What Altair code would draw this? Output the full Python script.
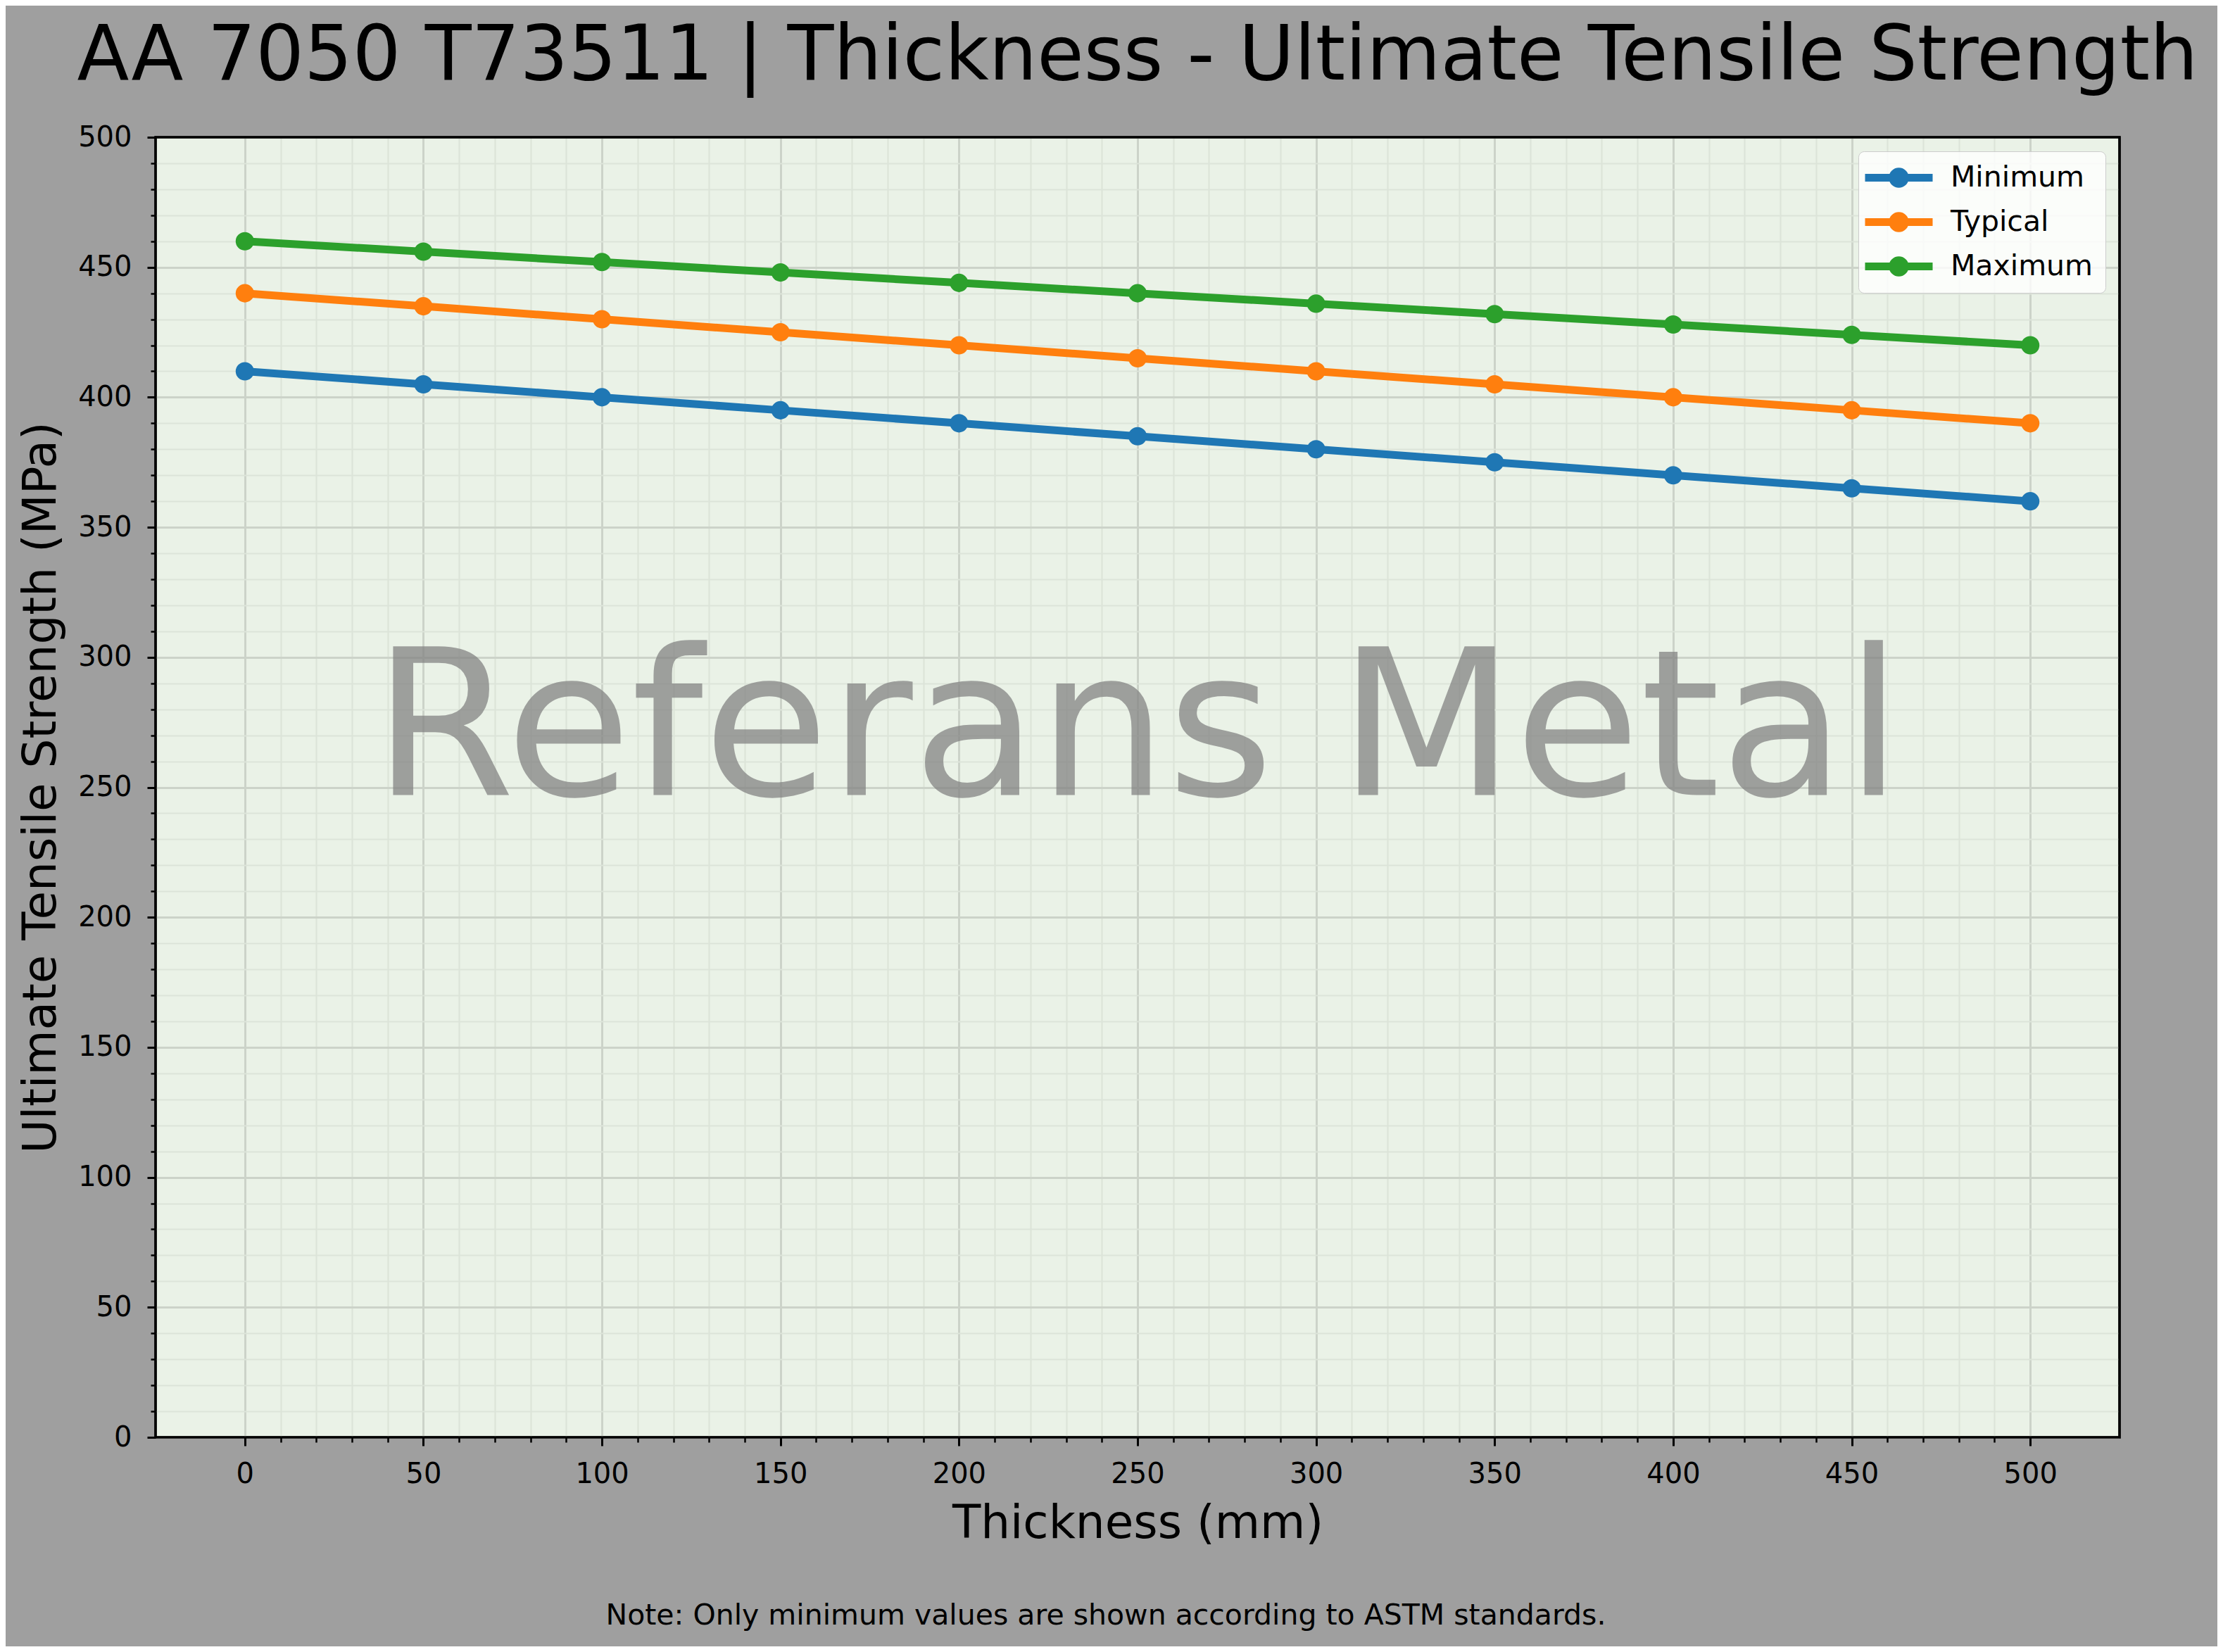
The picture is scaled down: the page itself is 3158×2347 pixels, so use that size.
import altair as alt
import pandas as pd

TITLE = "AA 7050 T73511 | Thickness - Ultimate Tensile Strength"
X_TITLE = "Thickness (mm)"
Y_TITLE = "Ultimate Tensile Strength (MPa)"
NOTE = "Note: Only minimum values are shown according to ASTM standards."
WATERMARK = "Referans Metal"

THICKNESS = [0, 50, 100, 150, 200, 250, 300, 350, 400, 450, 500]
SERIES = ["Minimum", "Typical", "Maximum"]
MINIMUM = [410, 405, 400, 395, 390, 385, 380, 375, 370, 365, 360]
TYPICAL = [440, 435, 430, 425, 420, 415, 410, 405, 400, 395, 390]
MAXIMUM = [460, 456, 452, 448, 444, 440, 436, 432, 428, 424, 420]
COLORS = ["#1f77b4", "#ff7f0e", "#2ca02c"]

MAJOR_TICKS = [0, 50, 100, 150, 200, 250, 300, 350, 400, 450, 500]
MINOR_TICKS = [v for v in range(0, 501, 10) if v % 50 != 0]

rows = []
for name, vals in zip(SERIES, [MINIMUM, TYPICAL, MAXIMUM]):
    for t, v in zip(THICKNESS, vals):
        rows.append({"thickness": t, "strength": v, "series": name})
df = pd.DataFrame(rows)

FONT = "DejaVu Sans"
W, H = 2790, 1847

xscale = alt.Scale(domain=[-25, 525], nice=False, zero=False)
yscale = alt.Scale(domain=[0, 500], nice=False)

minor_x = alt.Axis(orient="bottom", values=MINOR_TICKS, labels=False, domain=False,
                   grid=True, gridColor="#dce4d9", gridWidth=2.2,
                   ticks=True, tickSize=7, tickWidth=2.5, tickColor="black", title=None)
minor_y = alt.Axis(orient="left", values=MINOR_TICKS, labels=False, domain=False,
                   grid=True, gridColor="#dce4d9", gridWidth=2.2,
                   ticks=True, tickSize=7, tickWidth=2.5, tickColor="black", title=None)
major_x = alt.Axis(orient="bottom", values=MAJOR_TICKS, domain=False,
                   grid=True, gridColor="#ccd3c9", gridWidth=3,
                   ticks=True, tickSize=12, tickWidth=3, tickColor="black",
                   labelFont=FONT, labelFontSize=40, labelColor="black", labelPadding=20,
                   title=X_TITLE, titleFont=FONT, titleFontSize=66, titleFontWeight="normal",
                   titleColor="black", titlePadding=18)
major_y = alt.Axis(orient="left", values=MAJOR_TICKS, domain=False,
                   grid=True, gridColor="#ccd3c9", gridWidth=3,
                   ticks=True, tickSize=12, tickWidth=3, tickColor="black",
                   labelFont=FONT, labelFontSize=40, labelColor="black", labelPadding=22,
                   title=Y_TITLE, titleFont=FONT, titleFontSize=66, titleFontWeight="normal",
                   titleColor="black", titlePadding=18)

SYMBOL = ("M-3.2,-0.37L3.2,-0.37L3.2,0.37L-3.2,0.37Z"
          "M-0.95,0A0.95,0.95 0 1,1 0.95,0A0.95,0.95 0 1,1 -0.95,0Z")

legend = alt.Legend(title=None, orient="top-right", offset=20,
                    fillColor="rgba(255,255,255,0.8)", strokeColor="#cccccc",
                    cornerRadius=8, padding=17,
                    labelFont=FONT, labelFontSize=41, labelColor="black", labelLimit=500,
                    symbolType=SYMBOL, symbolSize=900, symbolOffset=20,
                    symbolStrokeWidth=0, labelOffset=53, rowPadding=21)

color = alt.Color("series:N", scale=alt.Scale(domain=SERIES, range=COLORS),
                  sort=SERIES, legend=legend)

minor = alt.Chart(df).mark_point(opacity=0).encode(
    x=alt.X("thickness:Q", scale=xscale, axis=minor_x),
    y=alt.Y("strength:Q", scale=yscale, axis=minor_y),
)

wm = alt.Chart(pd.DataFrame({"t": [WATERMARK]})).mark_text(
    font=FONT, fontSize=290, color="gray", opacity=0.72,
    align="center", baseline="alphabetic"
).encode(
    x=alt.XDatum(250, type="quantitative", scale=xscale, axis=None),
    y=alt.YDatum(247, type="quantitative", scale=yscale, axis=None),
    text="t:N",
)

lines = alt.Chart(df).mark_line(strokeWidth=11).encode(
    x=alt.X("thickness:Q", scale=xscale, axis=major_x),
    y=alt.Y("strength:Q", scale=yscale, axis=major_y),
    color=color,
)

points = alt.Chart(df).mark_point(filled=True, size=680, opacity=1).encode(
    x=alt.X("thickness:Q", scale=xscale, axis=None),
    y=alt.Y("strength:Q", scale=yscale, axis=None),
    color=color,
)

frame = alt.Chart(pd.DataFrame({"t": [""]})).mark_rect(
    fillOpacity=0, stroke="black", strokeWidth=3.5
).encode(
    x=alt.value(0), x2=alt.value(W), y=alt.value(0), y2=alt.value(H)
)

note = alt.Chart(pd.DataFrame({"t": [NOTE]})).mark_text(
    font=FONT, fontSize=41, color="black", align="center", baseline="alphabetic"
).encode(
    x=alt.value(1350),
    y=alt.value(2113),
    text="t:N",
)

chart = alt.layer(minor, wm, lines, points, frame, note).resolve_axis(
    x="independent", y="independent"
).properties(
    width=W, height=H,
    view=alt.ViewBackground(fill="#eaf2e7", stroke="black", strokeWidth=3),
    title=alt.TitleParams(text=TITLE, font=FONT, fontSize=108, fontWeight="normal",
                          color="black", anchor="middle", baseline="alphabetic",
                          offset=55, dy=101),
    background="#9f9f9f",
    padding={"left": 213, "top": 187, "right": 139, "bottom": 297},
    autosize=alt.AutoSizeParams(type="none"),
).configure_view(
    stroke="black", strokeWidth=3, fill="#eaf2e7"
).configure(font=FONT)

chart.save("out.html", embed_options={"renderer": "svg", "actions": False})
